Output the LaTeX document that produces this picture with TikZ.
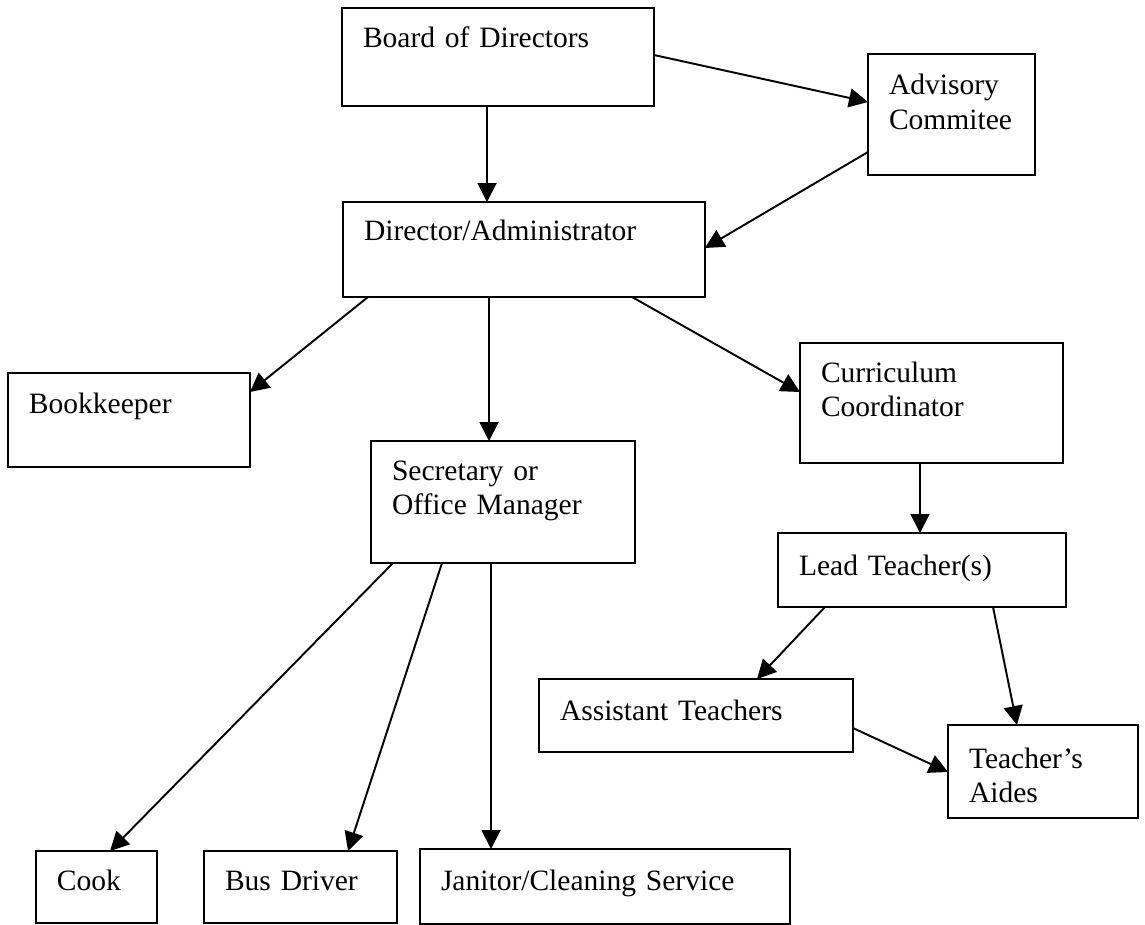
\documentclass[tikz,border=0pt]{standalone}
\usepackage{fontspec}
\setmainfont{Liberation Serif}
\usetikzlibrary{arrows.meta}

\begin{document}
\begin{tikzpicture}[
    x = 0.02cm, y = -0.02cm, % one unit per pixel, y downwards
    > = {Triangle[length=3.8mm, width=3.8mm]}, % arrow head style
    line width = 1.1pt, % line style
    font=\fontsize{16.8}{19.9}\selectfont
]

\tikzstyle{box}=[
    draw,
    line width = 1.3pt,
    anchor = north west,
    align = left,
    outer sep = 0pt,
    inner xsep = 0.42cm,
    inner ysep = 0pt,
]
\useasboundingbox (0,0) rectangle (1145,924);

\node[box, text width=5.4cm, text height=0.8cm, text depth=1.16cm] (board) at (342,8) {Board of Directors};
\node[box, text width=2.5cm, text height=0.82cm, text depth=1.6cm] (advisory) at (868,54) {Advisory\\Commitee};
\node[box, text width=6.4cm, text height=0.76cm, text depth=1.14cm] (director) at (343,202) {Director/Administrator};
\node[box, text width=4.0cm, text height=0.8cm, text depth=1.08cm] (bookkeeper) at (8,373) {Bookkeeper};
\node[box, text width=4.42cm, text height=0.78cm, text depth=1.62cm] (curriculum) at (800,343) {Curriculum\\Coordinator};
\node[box, text width=4.44cm, text height=0.78cm, text depth=1.66cm] (secretary) at (371,441) {Secretary or\\Office Manager};
\node[box, text width=4.92cm, text height=0.84cm, text depth=0.64cm] (lead) at (778,533) {Lead Teacher(s)};
\node[box, text width=5.44cm, text height=0.82cm, text depth=0.64cm] (assistant) at (539,679) {Assistant Teachers};
\node[box, text width=2.96cm, text height=0.86cm, text depth=1.0cm] (aides) at (948,725) {Teacher's\\Aides};
\node[box, text width=1.58cm, text height=0.78cm, text depth=0.66cm] (cook) at (36,851) {Cook};
\node[box, text width=3.02cm, text height=0.78cm, text depth=0.66cm] (bus) at (204,851) {Bus Driver};
\node[box, text width=6.56cm, text height=0.82cm, text depth=0.68cm] (janitor) at (420,849) {Janitor/Cleaning Service};

\path[->] ([shift={(145,0)}]board.south west) edge ([shift={(144,0)}]director.north west);
\path[->] ([shift={(0,47)}]board.north east) edge ([shift={(0,48)}]advisory.north west);
\path[->] ([shift={(0,98)}]advisory.north west) edge ([shift={(0,46)}]director.north east);

\path[->] ([shift={(25,0)}]director.south west) edge ([shift={(0,19)}]bookkeeper.north east);
\path[->] ([shift={(146,0)}]director.south west) edge ([shift={(118,0)}]secretary.north west);
\path[->] ([shift={(289,0)}]director.south west) edge ([shift={(0,49)}]curriculum.north west);

\path[->] ([shift={(120,0)}]curriculum.south west) edge ([shift={(142,0)}]lead.north west);
\path[->] ([shift={(47,0)}]lead.south west) edge ([shift={(218,0)}]assistant.north west);
\path[->] ([shift={(215,0)}]lead.south west) edge ([shift={(69,0)}]aides.north west);
\path[->] ([shift={(0,49)}]assistant.north east) edge ([shift={(0,47)}]aides.north west);

\path[->] ([shift={(22,0)}]secretary.south west) edge ([shift={(74,0)}]cook.north west);
\path[->] ([shift={(71,0)}]secretary.south west) edge ([shift={(144,0)}]bus.north west);
\path[->] ([shift={(120,0)}]secretary.south west) edge ([shift={(71,0)}]janitor.north west);
\end{tikzpicture}
\end{document}
